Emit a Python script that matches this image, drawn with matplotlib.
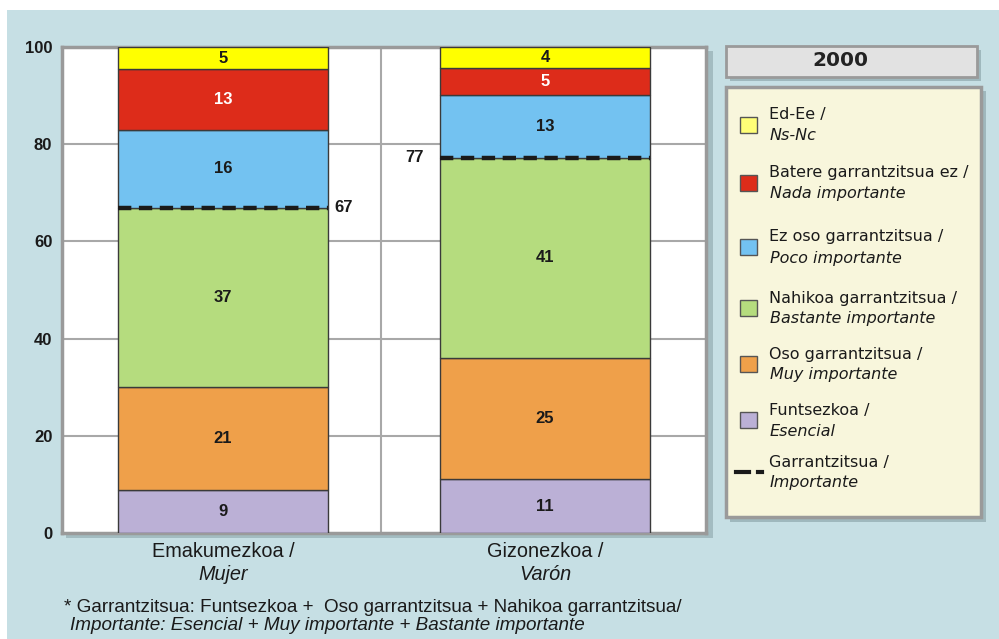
import matplotlib
matplotlib.use("Agg")
import matplotlib.pyplot as plt
from matplotlib.patches import Rectangle
from matplotlib.lines import Line2D
import numpy as np

plt.rcParams['font.family'] = ['Liberation Sans', 'DejaVu Sans']

categories = ["Emakumezkoa /", "Gizonezkoa /"]
categories_es = ["Mujer", "Varón"]
series_eu = ["Funtsezkoa /", "Oso garrantzitsua /", "Nahikoa garrantzitsua /",
             "Ez oso garrantzitsua /", "Batere garrantzitsua ez /", "Ed-Ee /"]
series_es = ["Esencial", "Muy importante", "Bastante importante",
             "Poco importante", "Nada importante", "Ns-Nc"]
# percentages (labels in the chart are these values rounded)
funtsezkoa = [8.9, 11.1]
oso = [21.1, 24.9]
nahikoa = [36.9, 41.2]
ez_oso = [16.0, 13.0]
batere = [12.5, 5.4]
ed_ee = [4.6, 4.4]
importante_labels = [67, 77]
colors = ["#bbb0d6", "#efa04a", "#b5dc7e", "#73c2f1", "#dd2c1a", "#ffff00"]
legend_colors = ["#bbb0d6", "#efa04a", "#b5dc7e", "#73c2f1", "#dd2c1a", "#ffff77"]
label_colors = ["#1a1a1a", "#1a1a1a", "#1a1a1a", "#1a1a1a", "white", "#1a1a1a"]
yticks = [0, 20, 40, 60, 80, 100]
year = "2000"
footnote1 = "* Garrantzitsua: Funtsezkoa +  Oso garrantzitsua + Nahikoa garrantzitsua/"
footnote2 = "Importante: Esencial + Muy importante + Bastante importante"

series = [funtsezkoa, oso, nahikoa, ez_oso, batere, ed_ee]

W, H = 999, 639
fig = plt.figure(figsize=(W / 100, H / 100), dpi=100)
fig.patch.set_facecolor("white")

def fx(px):
    return px / W

def fy(py):
    return 1 - py / H

# background panel
fig.patches.append(Rectangle((fx(7), 0), 1 - fx(7), fy(10), transform=fig.transFigure,
                             facecolor="#c6dfe4", edgecolor="none", zorder=-10))

# plot area shadow
fig.patches.append(Rectangle((fx(66), fy(538)), fx(647), fy(51) - fy(538),
                             transform=fig.transFigure, facecolor="#a3bcc1",
                             edgecolor="none", zorder=-5))

ax = fig.add_axes([fx(62), fy(533), fx(706) - fx(62), fy(47) - fy(533)])
ax.set_facecolor("white")
x = np.arange(len(categories))
width = 0.65
bottom = np.zeros(len(categories))
for i, vals in enumerate(series):
    v = np.array(vals, dtype=float)
    ax.bar(x, v, width, bottom=bottom, color=colors[i], edgecolor="#3a3a3a",
           linewidth=1.0, zorder=3)
    for j in range(len(x)):
        yc = bottom[j] + v[j] / 2
        ax.text(x[j], yc, f"{int(np.floor(v[j] + 0.5))}", ha="center", va="center",
                fontsize=12, fontweight="bold", color=label_colors[i], zorder=5)
    bottom += v

# dashed "importante" line = sum of first three series
imp = np.array(funtsezkoa) + np.array(oso) + np.array(nahikoa)
for j in range(len(x)):
    ax.plot([x[j] - width / 2, x[j] + width / 2], [imp[j], imp[j]],
            color="#1a1a1a", linestyle=(0, (3.0, 1.7)), linewidth=3.2, zorder=6)
ax.text(x[0] + width / 2 + 0.02, imp[0], f"{importante_labels[0]}", ha="left",
        va="center", fontsize=12, fontweight="bold", color="#1a1a1a")
ax.text(x[1] - width / 2 - 0.05, imp[1], f"{importante_labels[1]}", ha="right",
        va="center", fontsize=12, fontweight="bold", color="#1a1a1a")

ax.set_xlim(-0.5, 1.5)
ax.set_ylim(0, 100)
ax.set_yticks(yticks)
ax.set_yticklabels([str(t) for t in yticks], fontsize=12, fontweight="bold",
                   color="#1a1a1a")
ax.set_xticks([])
ax.tick_params(axis="y", length=0, pad=7)
for t in yticks[1:-1]:
    ax.axhline(t, color="#a8a8a8", linewidth=1.5, zorder=1)
ax.axvline(0.49, color="#a8a8a8", linewidth=1.5, zorder=1)
for s in ax.spines.values():
    s.set_color("#9a9a9a")
    s.set_linewidth(2.5)

# category labels
for j in range(len(x)):
    ax.text(x[j], -3.8, categories[j], ha="center", va="center", fontsize=14.3,
            clip_on=False, color="#1a1a1a")
    ax.text(x[j], -8.5, categories_es[j], ha="center", va="center", fontsize=14.3,
            style="italic", clip_on=False, color="#1a1a1a")

# footnote
fig.text(fx(64), fy(607), footnote1, ha="left", va="center", fontsize=13.6,
         color="#1a1a1a")
fig.text(fx(70), fy(626), footnote2, ha="left", va="center", fontsize=13.6,
         style="italic", color="#1a1a1a")

# year box
fig.patches.append(Rectangle((fx(730), fy(81)), fx(251), fy(50) - fy(81),
                             transform=fig.transFigure, facecolor="#9fb8bd",
                             edgecolor="none", zorder=1))
fig.patches.append(Rectangle((fx(726), fy(77)), fx(251), fy(46) - fy(77),
                             transform=fig.transFigure, facecolor="#e2e2e2",
                             edgecolor="#9a9a9a", linewidth=2, zorder=2))
fig.text(fx(840), fy(61), year, ha="center", va="center", fontsize=14.5,
         fontweight="bold", color="#222222", family="DejaVu Sans", zorder=3)

# legend box
fig.patches.append(Rectangle((fx(730), fy(522)), fx(256), fy(91) - fy(522),
                             transform=fig.transFigure, facecolor="#9fb8bd",
                             edgecolor="none", zorder=1))
fig.patches.append(Rectangle((fx(726), fy(517)), fx(255), fy(87) - fy(517),
                             transform=fig.transFigure, facecolor="#f8f6dc",
                             edgecolor="#9a9a9a", linewidth=2.5, zorder=2))

legend_y = [125, 183, 247, 308, 364, 420]
order = list(range(5, -1, -1))
for k, i in enumerate(order):
    yc = legend_y[k]
    fig.patches.append(Rectangle((fx(740), fy(yc + 8)), fx(17), fy(yc - 8) - fy(yc + 8),
                                 transform=fig.transFigure, facecolor=legend_colors[i],
                                 edgecolor="#555555", linewidth=1, zorder=3))
    fig.text(fx(769), fy(yc - 10), series_eu[i], ha="left", va="center",
             fontsize=11.5, color="#1a1a1a", family="DejaVu Sans", zorder=3)
    fig.text(fx(770), fy(yc + 11), series_es[i], ha="left", va="center",
             fontsize=11.5, style="italic", color="#1a1a1a", family="DejaVu Sans",
             zorder=3)

yc = 472
fig.lines.append(Line2D([fx(736), fx(749)], [fy(yc), fy(yc)], transform=fig.transFigure,
                        color="#1a1a1a", linewidth=3, zorder=3))
fig.lines.append(Line2D([fx(758), fx(762)], [fy(yc), fy(yc)], transform=fig.transFigure,
                        color="#1a1a1a", linewidth=3, zorder=3))
fig.text(fx(769), fy(yc - 10), "Garrantzitsua /", ha="left", va="center",
         fontsize=11.5, color="#1a1a1a", family="DejaVu Sans", zorder=3)
fig.text(fx(770), fy(yc + 11), "Importante", ha="left", va="center",
         fontsize=11.5, style="italic", color="#1a1a1a", family="DejaVu Sans", zorder=3)

fig.savefig("out.png", dpi=100)
